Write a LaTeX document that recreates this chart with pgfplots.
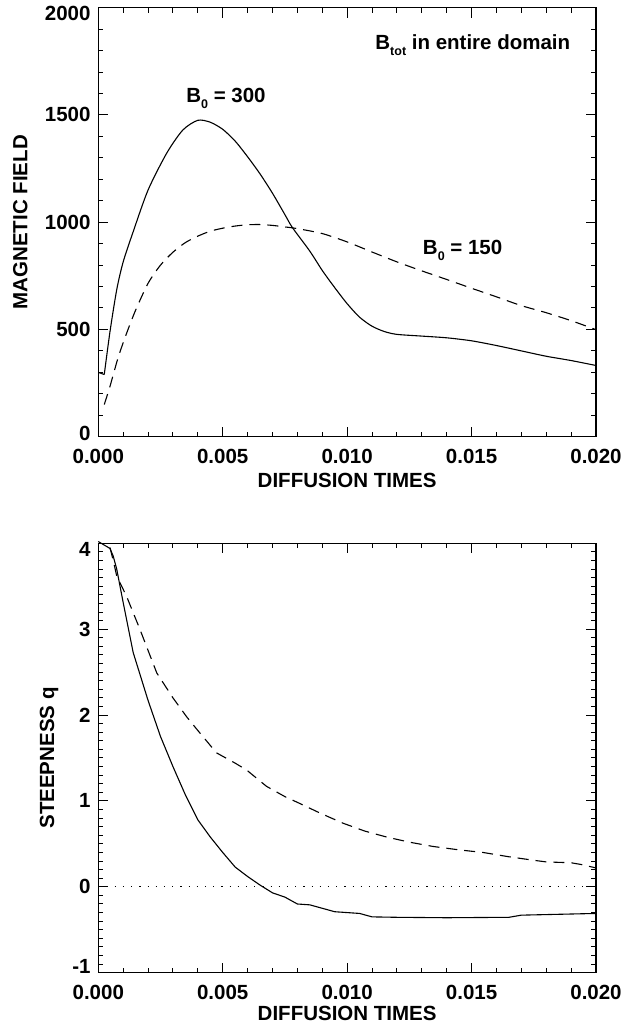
\documentclass[border=0pt]{standalone}
\usepackage{fontspec}
\setmainfont{Liberation Sans}
\usepackage{pgfplots}
\pgfplotsset{compat=1.18}
\newcommand{\lbl}{\fontsize{20.5bp}{24bp}\selectfont\bfseries}
\newcommand{\sub}[1]{\raisebox{-0.28em}{\fontsize{12.5bp}{13bp}\selectfont\bfseries #1}}
\newcommand{\shiftlab}[2]{\raisebox{#1}[\height][0pt]{#2}}
\pgfplotsset{idl/.style={
  scale only axis, width=497.7bp,
  xmin=0, xmax=0.02,
  xtick={0,0.005,0.01,0.015,0.02},
  xticklabels={0.000,0.005,0.010,0.015,0.020},
  scaled x ticks=false,
  minor x tick num=4,
  tick align=inside,
  major tick length=10bp, minor tick length=5bp,
  axis line style={line width=1.3bp},
  every tick/.style={line width=1bp, black},
  tick label style={font=\lbl, inner sep=0pt},
  xticklabel style={anchor=base, yshift=-27.3bp},
  yticklabel style={anchor=east, xshift=-7.6bp},
  label style={font=\lbl},
  /pgf/number format/assume math mode=true,
  clip=false,
  anchor=south west,
}}
\begin{document}
\begin{tikzpicture}
\path[use as bounding box] (0,0) rectangle (636bp,1025bp);
% ---------- top panel ----------
\begin{axis}[idl, at={(98.3bp,588.3bp)}, height=429bp,
  ymin=0, ymax=2000, ytick={0,500,1000,1500,2000},
  yticklabels={\shiftlab{3bp}{0},500,1000,1500,\shiftlab{-6bp}{2000}},
  minor y tick num=4,
  xlabel={DIFFUSION TIMES}, ylabel={MAGNETIC FIELD},
  xlabel style={at={(axis description cs:0.5,-0.1014)}, anchor=center},
  ylabel style={at={(axis description cs:-0.1567,0.5)}, anchor=center},
]
\addplot[black, line width=1.1bp] coordinates {(0,300) (0.00024,290)};
\addplot[black, line width=1.1bp, smooth, tension=0.45] coordinates {
(0.00024,290) (0.00047,490) (0.00074,685) (0.001,815) (0.0014,955)
(0.002,1150) (0.00275,1322) (0.0034,1430) (0.004,1475) (0.0045,1466)
(0.005,1433) (0.0055,1378) (0.006,1305) (0.0065,1225) (0.007,1135)
(0.0075,1035) (0.0078,975) (0.0085,865) (0.009,775) (0.0095,695)
(0.010,620) (0.0105,557) (0.011,515) (0.0115,490) (0.012,477)
(0.013,469) (0.014,461) (0.015,447) (0.016,425) (0.017,400)
(0.018,375) (0.019,355) (0.020,332)};
\addplot[black, line width=1.1bp, dash pattern=on 11bp off 7bp, smooth, tension=0.45] coordinates {
(0.00024,150) (0.00047,235) (0.0008,370) (0.00114,483) (0.0015,590)
(0.002,715) (0.0025,800) (0.003,860) (0.0035,905) (0.004,935)
(0.0045,958) (0.005,972) (0.0055,982) (0.006,988) (0.0065,989)
(0.007,985) (0.0075,978) (0.008,970) (0.009,947) (0.010,908)
(0.011,861) (0.012,815) (0.013,773) (0.014,733) (0.015,692)
(0.016,652) (0.017,611) (0.018,578) (0.019,541) (0.020,499)};
\node[anchor=base, font=\lbl] at (axis cs:0.00513,1558) {B\sub{0} = 300};
\node[anchor=base, font=\lbl] at (axis cs:0.01505,1804) {B\sub{tot} in entire domain};
\node[anchor=base, font=\lbl] at (axis cs:0.01464,848) {B\sub{0} = 150};
\end{axis}
% ---------- bottom panel ----------
\begin{axis}[idl, at={(98.3bp,52.3bp)}, height=429.4bp,
  ymin=-1, ymax=4, ytick={-1,0,1,2,3,4},
  yticklabels={\shiftlab{6bp}{-1},0,1,2,3,\shiftlab{-6bp}{4}},
  minor y tick num=9,
  xlabel={DIFFUSION TIMES}, ylabel={STEEPNESS q},
  xlabel style={at={(axis description cs:0.5,-0.0945)}, anchor=center},
  ylabel style={at={(axis description cs:-0.099,0.5)}, anchor=center},
]
\addplot[black, line width=0.9bp, dash pattern=on 1.2bp off 7bp] coordinates {(0,0) (0.02,0)};
\addplot[black, line width=1.1bp] coordinates {
(0,4.02) (0.00047,3.94) (0.0006,3.85) (0.00074,3.70) (0.001,3.31)
(0.0014,2.73) (0.002,2.17) (0.0025,1.75) (0.003,1.40) (0.0035,1.07)
(0.004,0.78) (0.0045,0.58) (0.005,0.40) (0.0055,0.23) (0.006,0.12)
(0.0065,0.02) (0.007,-0.07) (0.0075,-0.12) (0.008,-0.20) (0.0085,-0.21)
(0.009,-0.25) (0.0095,-0.29) (0.0105,-0.31) (0.011,-0.35) (0.012,-0.355)
(0.014,-0.36) (0.0165,-0.355) (0.017,-0.33) (0.020,-0.31)};
\addplot[black, line width=1.1bp, dash pattern=on 11bp off 7bp] coordinates {
(0.00047,3.95) (0.0006,3.80) (0.00074,3.62) (0.00114,3.38) (0.00167,3.00)
(0.00235,2.49) (0.003,2.2) (0.00355,1.98) (0.004,1.82) (0.00475,1.56)
(0.0055,1.44) (0.00596,1.36) (0.00676,1.17) (0.0075,1.05) (0.0081,0.97)
(0.0089,0.86) (0.00984,0.74) (0.0107,0.65) (0.01158,0.58) (0.0125,0.52)
(0.01345,0.47) (0.0145,0.43) (0.01546,0.40) (0.0165,0.35) (0.01747,0.31)
(0.018,0.29) (0.019,0.28) (0.0194,0.26) (0.0200,0.22)};
\end{axis}
\end{tikzpicture}
\end{document}
